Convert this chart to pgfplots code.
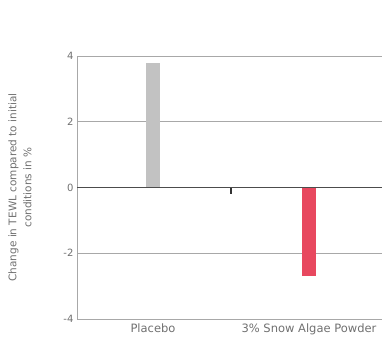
\documentclass[border=0pt]{standalone}
\usepackage{pgfplots}
\pgfplotsset{compat=1.18}
\usepackage{fontspec}
\setmainfont{DejaVu Sans}
\definecolor{txt}{HTML}{707070}
\definecolor{gridc}{HTML}{A8A8A8}
\definecolor{plac}{HTML}{C2C2C2}
\definecolor{snow}{HTML}{E8485F}
\begin{document}
\begin{tikzpicture}[x=1pt,y=1pt]
\useasboundingbox (-77,-24) rectangle (305,319);
\begin{axis}[
  at={(0,0)}, anchor=south west,
  scale only axis, width=305pt, height=263pt,
  xmin=-0.487, xmax=1.468, ymin=-4, ymax=4,
  ytick={-4,-2,0,2,4},
  xtick={0,1}, xticklabels={Placebo,3\% Snow Algae Powder},
  axis x line*=bottom, axis y line*=left,
  axis line style={gridc, line width=0.8pt},
  major tick length=0pt,
  ymajorgrids, grid style={gridc, line width=0.7pt},
  yticklabel style={font=\fontsize{10}{11}\selectfont, text=txt},
  xticklabel style={font=\fontsize{11.5}{12}\selectfont, text=txt, yshift=-1pt},
  /pgf/number format/assume math mode=true,
  ylabel={Change in TEWL compared to initial\\conditions in \%},
  ylabel style={font=\fontsize{10.5}{15}\selectfont, text=txt, align=center,
    at={(axis description cs:-0.187,0.5)}, anchor=center},
  clip=false,
]
\addplot[ybar, bar width=14pt, fill=plac, draw=none] coordinates {(0,3.8)};
\addplot[ybar, bar width=14pt, fill=snow, draw=none] coordinates {(1,-2.7)};
\addplot[ybar, bar width=2pt, fill=black!80, draw=none] coordinates {(0.5,-0.2)};
\addplot[black!70, line width=1.8pt, mark=none] coordinates {(-0.487,0) (1.468,0)};
\end{axis}
\end{tikzpicture}
\end{document}
